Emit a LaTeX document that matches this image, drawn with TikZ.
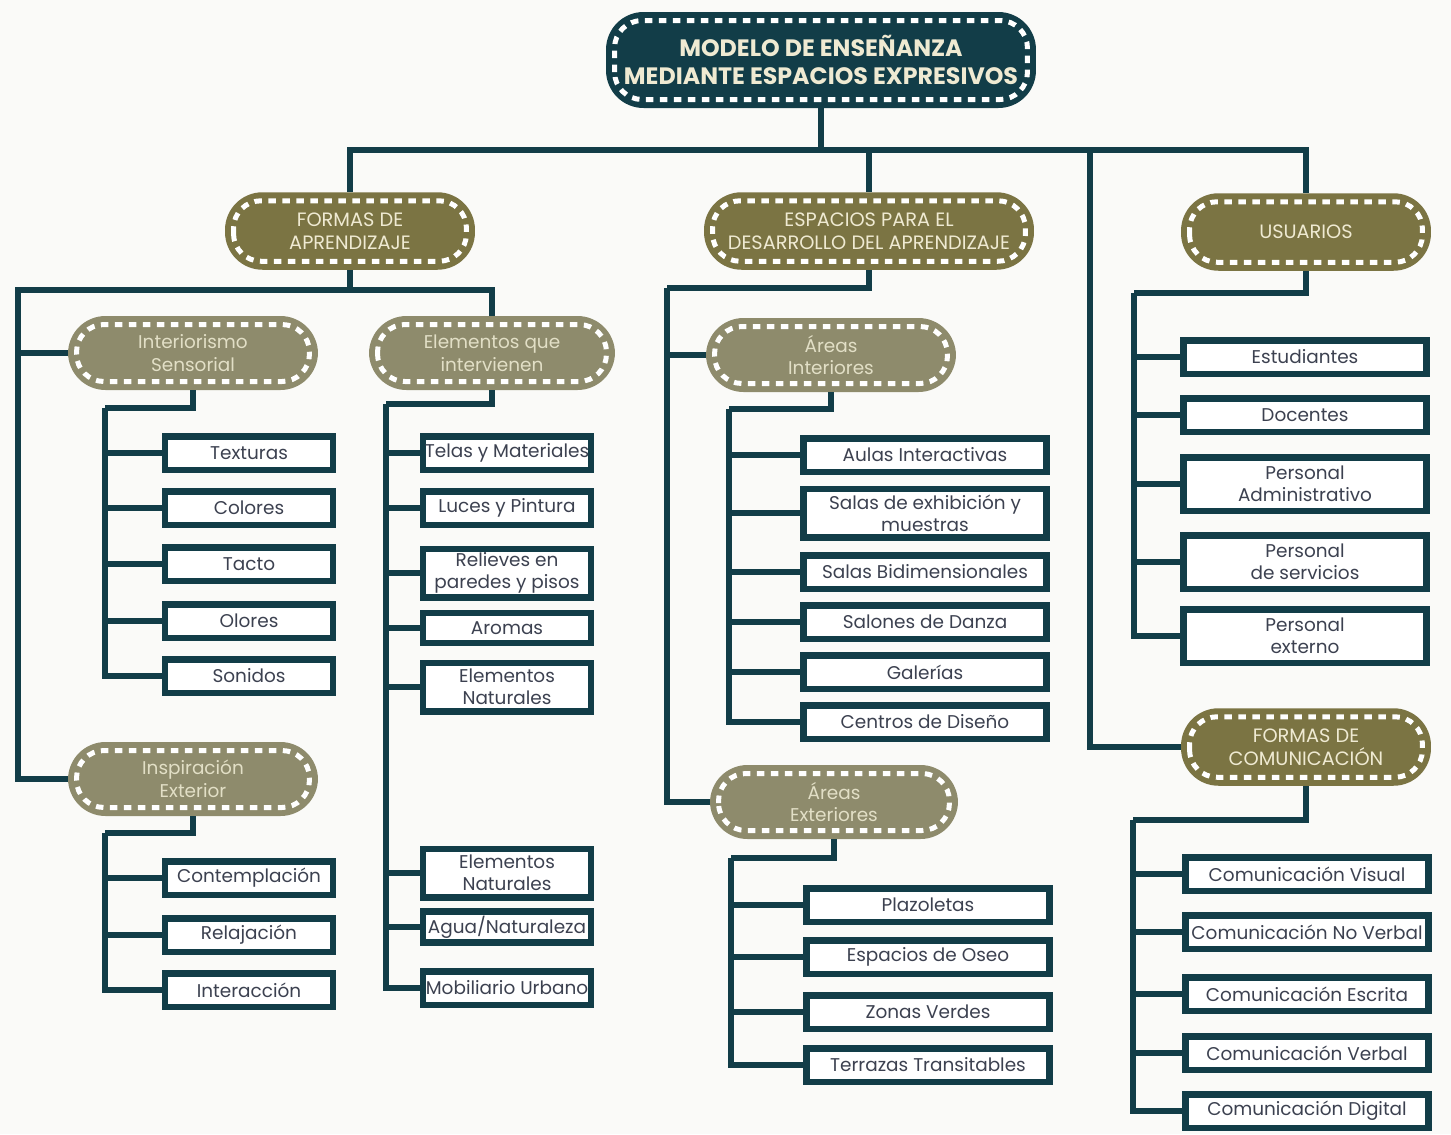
\documentclass[tikz,border=0pt]{standalone}
\usepackage{fontspec}
\setmainfont{Poppins}
\definecolor{teal}{HTML}{123D48}
\definecolor{olive}{HTML}{7B7443}
\definecolor{lolive}{HTML}{8E8B6C}
\definecolor{cream}{HTML}{EFEAD2}
\definecolor{scream}{HTML}{E2DFC6}
\definecolor{leaftext}{HTML}{3C4150}
\definecolor{bg}{HTML}{FAFAF8}
\tikzset{
  conn/.style={draw=teal, line width=0.12cm},
  stitch/.style={path picture={\draw[white,line width=0.1cm,dash pattern=on 0.15cm off 0.13cm,rounded corners=#1]
      ([shift={(0.17cm,0.17cm)}]path picture bounding box.south west) rectangle
      ([shift={(-0.17cm,-0.17cm)}]path picture bounding box.north east);}},
  topbox/.style={fill=teal, rounded corners=0.75cm, minimum width=8.6cm, minimum height=1.92cm,
      text=cream, font=\bfseries\fontsize{13.5}{16}\selectfont, align=center, stitch=0.55cm, inner sep=0pt},
  catbox/.style={fill=olive, rounded corners=0.75cm, minimum width=5cm, minimum height=1.55cm,
      text=cream, font=\fontsize{11}{13}\selectfont, align=center, stitch=0.55cm, inner sep=0pt},
  subbox/.style={catbox, fill=lolive, text=scream, minimum height=1.48cm, font=\fontsize{10.5}{13}\selectfont},
  leaf/.style={draw=teal, line width=0.13cm, fill=white, minimum width=3.37cm, minimum height=0.67cm,
      align=center, text=leaftext, font=\fontsize{10.5}{12.5}\selectfont, inner sep=0pt},
  wleaf/.style={leaf, minimum width=4.87cm},
  dbl/.style={minimum height=0.97cm},
  tpl/.style={minimum height=1.07cm},
}
\begin{document}
\begin{tikzpicture}[x=0.02cm, y=-0.02cm]
\fill[bg] (0,0) rectangle (1451,1134);
\useasboundingbox (0,0) rectangle (1451,1134);

% main nodes
\node[topbox] (top) at (821,60) {MODELO DE ENSEÑANZA\\MEDIANTE ESPACIOS EXPRESIVOS};
\node[catbox] (fa) at (350,231) {FORMAS DE\\APRENDIZAJE};
\node[catbox, minimum width=6.6cm] (esp) at (869,231) {ESPACIOS PARA EL\\DESARROLLO DEL APRENDIZAJE};
\node[catbox] (usu) at (1306,232) {USUARIOS};
\node[catbox] (fc) at (1306,747) {FORMAS DE\\COMUNICACIÓN};

\node[subbox] (is) at (193,353) {Interiorismo\\Sensorial};
\node[subbox, minimum width=4.92cm] (ei) at (492,353) {Elementos que\\intervienen};
\node[subbox] (ie) at (193,779) {Inspiración\\Exterior};
\node[subbox] (ai) at (831,355) {Áreas\\Interiores};
\node[subbox, minimum width=4.96cm] (ae) at (834,802) {Áreas\\Exteriores};

% leaves column 1
\node[leaf] (tex) at (249,453) {Texturas};
\node[leaf] (col) at (249,508) {Colores};
\node[leaf] (tac) at (249,564) {Tacto};
\node[leaf] (olo) at (249,621) {Olores};
\node[leaf] (son) at (249,676) {Sonidos};
\node[leaf] (con) at (249,878) {Contemplación};
\node[leaf] (rel) at (249,935) {Relajación};
\node[leaf] (int) at (249,990) {Interacción};

% leaves column 2
\node[leaf] (tel) at (507,453) {Telas y Materiales};
\node[leaf] (luc) at (507,508) {Luces y Pintura};
\node[leaf, dbl] (rpp) at (507,573) {Relieves en\\paredes y pisos};
\node[leaf, minimum height=0.6cm] (aro) at (507,628) {Aromas};
\node[leaf, dbl] (en1) at (507,687) {Elementos\\Naturales};
\node[leaf, dbl] (en2) at (507,873) {Elementos\\Naturales};
\node[leaf, minimum height=0.62cm] (agu) at (507,927) {Agua/Naturaleza};
\node[leaf] (mob) at (507,988) {Mobiliario Urbano};

% leaves column 3
\node[wleaf] (aul) at (925,455) {Aulas Interactivas};
\node[wleaf, dbl] (sex) at (925,513) {Salas de exhibición y\\muestras};
\node[wleaf] (sbi) at (925,572) {Salas Bidimensionales};
\node[wleaf] (sdz) at (925,622) {Salones de Danza};
\node[wleaf] (gal) at (925,672) {Galerías};
\node[wleaf] (cdi) at (925,722) {Centros de Diseño};
\node[wleaf] (plz) at (928,905) {Plazoletas};
\node[wleaf] (ose) at (928,957) {Espacios de Oseo};
\node[wleaf] (zov) at (928,1012) {Zonas Verdes};
\node[wleaf] (ter) at (928,1065) {Terrazas Transitables};

% leaves column 4
\node[wleaf] (est) at (1305,357) {Estudiantes};
\node[wleaf] (doc) at (1305,415) {Docentes};
\node[wleaf, tpl] (pad) at (1305,484) {Personal\\Administrativo};
\node[wleaf, tpl] (pse) at (1305,562) {Personal\\de servicios};
\node[wleaf, tpl] (pex) at (1305,636) {Personal\\externo};
\node[wleaf] (cvi) at (1307,874) {Comunicación Visual};
\node[wleaf] (cnv) at (1307,932) {Comunicación No Verbal};
\node[wleaf] (ces) at (1307,994) {Comunicación Escrita};
\node[wleaf] (cve) at (1307,1053) {Comunicación Verbal};
\node[wleaf] (cdg) at (1307,1111) {Comunicación Digital};

% bus coordinates
\coordinate (b0) at (822,150);
\coordinate (b1) at (1090,150);
\coordinate (fa1) at (18,290);
\coordinate (is1) at (105,408);
\coordinate (ie1) at (105,833);
\coordinate (el1) at (386,404);
\coordinate (es1) at (667,288);
\coordinate (ai1) at (729,409);
\coordinate (ae1) at (731,858);
\coordinate (us1) at (1134,293);
\coordinate (fc1) at (1133,820);

% level 1
\draw[conn] (top.south) -- (top.south |- b0);
\draw[conn] (fa.north) |- (usu.north |- b0) -- (usu.north);
\draw[conn] (esp.north) -- (esp.north |- b0);
\draw[conn] (b1) |- (fc.west);
% formas de aprendizaje
\draw[conn] (fa.south) -- (fa.south |- fa1);
\draw[conn] (ei.north) |- (fa1) |- (is.west);
\draw[conn] (fa1) |- (ie.west);
% interiorismo sensorial
\draw[conn] (is.south) |- (is1);
\foreach \n in {tex,col,tac,olo,son} \draw[conn] (is1) |- (\n.west);
% inspiracion exterior
\draw[conn] (ie.south) |- (ie1);
\foreach \n in {con,rel,int} \draw[conn] (ie1) |- (\n.west);
% elementos que intervienen
\draw[conn] (ei.south) |- (el1);
\foreach \n in {tel,luc,rpp,aro,en1,en2,agu,mob} \draw[conn] (el1) |- (\n.west);
% espacios
\draw[conn] (esp.south) |- (es1);
\draw[conn] (es1) |- (ai.west);
\draw[conn] (es1) |- (ae.west);
\draw[conn] (ai.south) |- (ai1);
\foreach \n in {aul,sex,sbi,sdz,gal,cdi} \draw[conn] (ai1) |- (\n.west);
\draw[conn] (ae.south) |- (ae1);
\foreach \n in {plz,ose,zov,ter} \draw[conn] (ae1) |- (\n.west);
% usuarios
\draw[conn] (usu.south) |- (us1);
\foreach \n in {est,doc,pad,pse,pex} \draw[conn] (us1) |- (\n.west);
% formas de comunicacion
\draw[conn] (fc.south) |- (fc1);
\foreach \n in {cvi,cnv,ces,cve,cdg} \draw[conn] (fc1) |- (\n.west);
\end{tikzpicture}
\end{document}
